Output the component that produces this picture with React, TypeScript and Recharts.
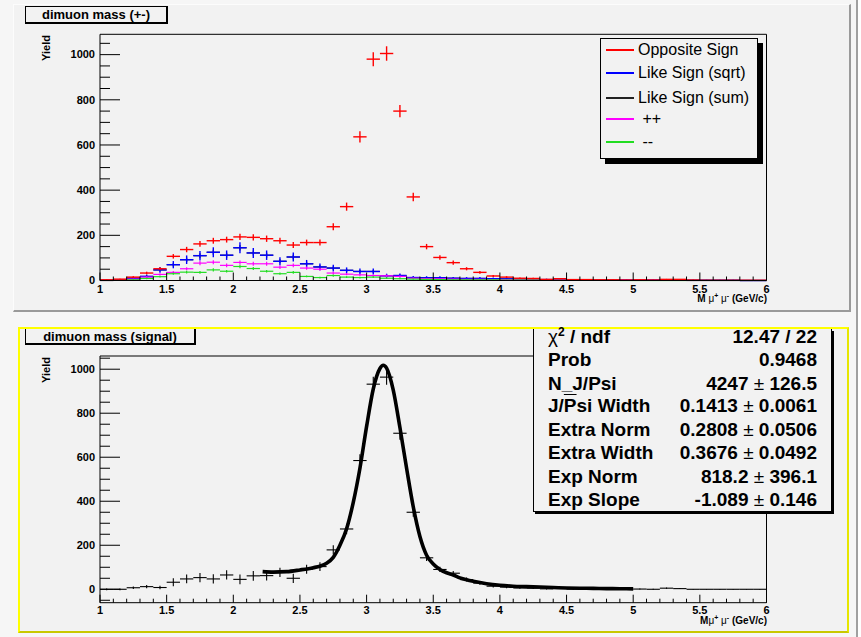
import React from "react";
import { ComposedChart, Scatter, Line, XAxis, YAxis, ErrorBar, ReferenceLine } from "recharts";

const FONT = '"Liberation Sans", Arial, Helvetica, sans-serif';

// bin centres, 50 bins of 0.1 GeV from 1 to 6
const binCenters = [
  1.05, 1.15, 1.25, 1.35, 1.45, 1.55, 1.65, 1.75, 1.85, 1.95, 2.05, 2.15, 2.25, 2.35, 2.45, 2.55, 2.65, 2.75, 2.85,
  2.95, 3.05, 3.15, 3.25, 3.35, 3.45, 3.55, 3.65, 3.75, 3.85, 3.95, 4.05, 4.15, 4.25, 4.35, 4.45, 4.55, 4.65, 4.75,
  4.85, 4.95, 5.05, 5.15, 5.25, 5.35, 5.45, 5.55, 5.65, 5.75, 5.85, 5.95,
];
const binHalfWidth = 0.05;

const oppositeSign = [
  3, 6, 15, 33, 52, 107, 137, 162, 176, 181, 193, 191, 185, 176, 157, 168, 168, 238, 327, 636, 980, 1005, 750, 370,
  150, 102, 79, 52, 36, 20, 15, 10, 9, 5, 8, 4, 4, 3, 3, 2, 3, 2, 5, 5, 2, 1, 1, 1, 1, 1,
];
const oppositeSignErr = [
  2, 2, 4, 6, 7, 10, 12, 13, 13, 13, 14, 14, 14, 13, 13, 13, 13, 15, 18, 25, 31, 32, 27, 19, 12, 10, 9, 7, 6, 4, 4, 3,
  3, 2, 3, 2, 2, 2, 2, 1, 2, 1, 2, 2, 1, 1, 1, 1, 1, 1,
];
const likeSignSqrt = [
  1, 3, 10, 18, 47, 70, 92, 110, 125, 112, 145, 122, 112, 85, 104, 74, 60, 55, 45, 40, 40, 21, 22, 13, 12, 12, 10, 9, 9,
  8, 7, 6, 5, 4, 4, 3, 3, 3, 2, 2, 2, 2, 1, 2, 1, 1, 1, 1, 0, 0,
];
const likeSignSqrtErr = [
  2, 3, 6, 8, 13, 16, 19, 21, 22, 21, 24, 22, 21, 18, 20, 17, 15, 15, 13, 13, 13, 9, 9, 7, 7, 7, 6, 6, 6, 5, 5, 5, 4,
  4, 4, 3, 3, 3, 3, 3, 3, 3, 2, 3, 2, 2, 2, 2, 1, 1,
];
const likeSignSum = [
  1, 3, 10, 18, 47, 70, 92, 110, 125, 112, 145, 122, 112, 85, 104, 74, 60, 55, 45, 40, 40, 21, 22, 13, 12, 12, 10, 9, 9,
  8, 7, 6, 5, 4, 4, 3, 3, 3, 2, 2, 2, 2, 1, 2, 1, 1, 1, 1, 0, 0,
];
const likeSignSumErr = [
  1, 2, 3, 4, 7, 8, 10, 11, 11, 11, 12, 11, 11, 9, 10, 9, 8, 7, 7, 6, 6, 5, 5, 4, 3, 3, 3, 3, 3, 3, 3, 2, 2, 2, 2, 2, 2,
  2, 1, 1, 1, 1, 1, 1, 1, 1, 1, 1, 0, 0,
];
const plusPlus = [
  0, 1, 6, 15, 27, 36, 52, 77, 81, 67, 80, 74, 74, 59, 67, 55, 50, 33, 28, 25, 22, 21, 18, 10, 8, 7, 6, 5, 5, 4, 4, 3,
  3, 2, 2, 2, 2, 1, 1, 1, 1, 1, 1, 1, 0, 0, 0, 0, 0, 0,
];
const plusPlusErr = [
  0, 1, 2, 4, 5, 6, 7, 9, 9, 8, 9, 9, 9, 8, 8, 7, 7, 6, 5, 5, 5, 5, 4, 3, 3, 3, 2, 2, 2, 2, 2, 2, 2, 1, 1, 1, 1, 1, 1,
  1, 1, 1, 1, 1, 0, 0, 0, 0, 0, 0,
];
const minusMinus = [
  0, 1, 3, 9, 17, 30, 37, 36, 47, 41, 62, 53, 41, 30, 36, 18, 13, 22, 15, 13, 15, 10, 8, 6, 5, 4, 3, 3, 3, 3, 2, 2, 2,
  2, 1, 1, 1, 1, 1, 0, 0, 0, 0, 0, 0, 0, 0, 0, 0, 0,
];
const minusMinusErr = [
  0, 1, 2, 3, 4, 5, 6, 6, 7, 6, 8, 7, 6, 5, 6, 4, 4, 5, 4, 4, 4, 3, 3, 2, 2, 2, 2, 2, 2, 2, 1, 1, 1, 1, 1, 1, 1, 1, 1,
  0, 0, 0, 0, 0, 0, 0, 0, 0, 0, 0,
];
const signal = [
  0, 0, 7, 12, 8, 32, 47, 53, 47, 65, 45, 61, 62, 77, 50, 91, 103, 179, 274, 585, 932, 964, 709, 350, 143, 90, 73, 44,
  28, 14, 10, 6, 5, 2, 4, 1, 1, 0, 1, 0, 1, 0, 5, 3, 0, 0, 0, 0, 0, 0,
];
const signalErr = [
  4, 4, 6, 7, 8, 18, 20, 21, 21, 21, 22, 22, 22, 21, 21, 20, 20, 21, 24, 28, 34, 35, 30, 21, 14, 12, 10, 9, 7, 6, 5, 4,
  4, 3, 3, 3, 2, 2, 2, 2, 2, 2, 3, 2, 1, 1, 1, 1, 1, 1,
];

// fitted curve
const fitX = [
  2.22, 2.3, 2.4, 2.5, 2.6, 2.65, 2.7, 2.75, 2.8, 2.85, 2.9, 2.95, 3.0, 3.05, 3.1, 3.125, 3.15, 3.2, 3.25, 3.3, 3.35,
  3.4, 3.45, 3.5, 3.55, 3.6, 3.65, 3.7, 3.75, 3.8, 3.9, 4.0, 4.1, 4.2, 4.3, 4.4, 4.5, 4.6, 4.7, 4.8, 4.9, 5.0,
];
const fitY = [
  80, 78, 80, 88, 98, 105, 118, 145, 200, 275, 395, 550, 740, 910, 1003, 1018, 1005, 905, 735, 550, 375, 240, 155, 115,
  90, 75, 65, 52, 43, 36, 25, 18, 14, 12, 10, 8, 6, 5, 4, 3, 2.5, 2,
];

const xTickLabels = [1, 1.5, 2, 2.5, 3, 3.5, 4, 4.5, 5, 5.5, 6];
const yTickLabels = [0, 200, 400, 600, 800, 1000];

const legendItems = [
  { label: "Opposite Sign", color: "#ff0000", y: 50 },
  { label: "Like Sign (sqrt)", color: "#0000ff", y: 73 },
  { label: "Like Sign (sum)", color: "#222222", y: 98 },
  { label: " ++", color: "#ff00ff", y: 119 },
  { label: " --", color: "#22dd22", y: 142 },
];

const statLabels = ["chi2", "Prob", "N_J/Psi", "J/Psi Width", "Extra Norm", "Extra Width", "Exp Norm", "Exp Slope"];
const statValues = [
  "12.47 / 22",
  "0.9468",
  "4247 ± 126.5",
  "0.1413 ± 0.0061",
  "0.2808 ± 0.0506",
  "0.3676 ± 0.0492",
  "818.2 ± 396.1",
  "-1.089 ± 0.146",
];
const statRowY = [337, 360, 384, 406, 430, 453, 477, 500];

const hist = (vals: number[], errs: number[]) =>
  binCenters.map((x, i) => ({ x, y: vals[i], ex: binHalfWidth, ey: errs[i] }));

const xTicks = Array.from({ length: 51 }, (_, i) => Math.round(10 + i) / 10);
const yTicks = Array.from({ length: 22 }, (_, i) => i * 50);
const yTicksBottom = [-50, ...yTicks];

const tickStyle = { fontFamily: FONT, fontWeight: 700, fontSize: 11, fill: "#000" };
const PAD = "#f2f2f2";

const noMarker = () => <g />;

function makeXTick(labelDy: number) {
  return (props: any) => {
    const { x, y, payload } = props;
    const v = payload.value;
    const major = xTickLabels.some((t) => Math.abs(t - v) < 1e-6);
    return (
      <g>
        <line x1={x} x2={x} y1={y} y2={y - (major ? 8 : 4)} stroke="#000" strokeWidth={1} />
        {major && (
          <text x={x} y={y + labelDy} textAnchor="middle" style={tickStyle}>
            {v}
          </text>
        )}
      </g>
    );
  };
}

const YTick = (props: any) => {
  const { x, y, payload } = props;
  const major = yTickLabels.includes(payload.value);
  return (
    <g>
      <line x1={x} x2={x + (major ? 20 : 10)} y1={y} y2={y} stroke="#000" strokeWidth={1} />
      {major && (
        <text x={x - 5} y={y} dy="0.35em" textAnchor="end" style={tickStyle}>
          {payload.value}
        </text>
      )}
    </g>
  );
};

function HistSeries({ data, color, w }: { data: any[]; color: string; w: number }) {
  return null;
}

function series(data: any[], color: string, w: number, key: string) {
  return (
    <Scatter key={key} data={data} dataKey="y" shape={noMarker} isAnimationActive={false}>
      <ErrorBar dataKey="ex" direction="x" width={0} stroke={color} strokeWidth={w} />
      <ErrorBar dataKey="ey" direction="y" width={0} stroke={color} strokeWidth={w} />
    </Scatter>
  );
}

const Mu = () => <span style={{ fontWeight: 400 }}>μ</span>;

function YieldLabel({ top }: { top: number }) {
  return (
    <div
      style={{
        position: "absolute",
        left: 46,
        top,
        transform: "translate(-50%, -50%) rotate(-90deg)",
        fontFamily: FONT,
        fontWeight: 700,
        fontSize: 11,
        whiteSpace: "nowrap",
      }}
    >
      Yield
    </div>
  );
}

function StatValue({ text }: { text: string }) {
  const parts = text.split("±");
  if (parts.length === 1) return <>{text}</>;
  return (
    <>
      {parts[0]}
      <span style={{ fontWeight: 400 }}>±</span>
      {parts[1]}
    </>
  );
}

function StatLabel({ text }: { text: string }) {
  if (text === "chi2")
    return (
      <>
        <span style={{ fontWeight: 400 }}>χ</span>
        <span style={{ fontSize: 12, position: "relative", top: -7 }}>2</span> / ndf
      </>
    );
  if (text === "J/Psi Width")
    return (
      <>
        J/<span style={{ textDecoration: "overline", textDecorationThickness: 1 }}>P</span>si Width
      </>
    );
  return <>{text}</>;
}

export default function App() {
  const osData = hist(oppositeSign, oppositeSignErr);
  const sqrtData = hist(likeSignSqrt, likeSignSqrtErr);
  const sumData = hist(likeSignSum, likeSignSumErr);
  const ppData = hist(plusPlus, plusPlusErr);
  const mmData = hist(minusMinus, minusMinusErr);
  const sigData = hist(signal, signalErr);
  const fitData = fitX.map((x, i) => ({ x, y: fitY[i] }));

  return (
    <div
      style={{
        position: "absolute",
        left: 0,
        top: 0,
        width: 861,
        height: 637,
        background: "#ffffff",
        overflow: "hidden",
        fontFamily: FONT,
      }}
    >
      <div
        style={{
          position: "absolute",
          left: 0,
          top: 0,
          width: 856,
          height: 637,
          background: "#f6f6f6",
          borderRight: "2px solid #a0a0a0",
        }}
      />
      {/* top pad */}
      <div
        style={{
          position: "absolute",
          left: 13,
          top: 4,
          width: 835,
          height: 305,
          background: PAD,
          borderTop: "1px solid #fcfcfc",
          borderLeft: "1px solid #fcfcfc",
          borderRight: "2px solid #9a9a9a",
          borderBottom: "2px solid #9a9a9a",
        }}
      />
      {/* bottom pad */}
      <div
        style={{
          position: "absolute",
          left: 18,
          top: 327,
          width: 827,
          height: 302,
          background: PAD,
          borderTop: "2px solid #ffff00",
          borderLeft: "2px solid #ffff00",
          borderRight: "2px solid #e6e600",
          borderBottom: "2px solid #c8c800",
        }}
      />

      <div style={{ position: "absolute", left: 0, top: 0 }}>
        <ComposedChart width={861} height={320} margin={{ top: 34.3, right: 94.5, bottom: 19.5, left: 60 }}>
          <XAxis
            type="number"
            dataKey="x"
            domain={[1, 6]}
            ticks={xTicks}
            interval={0}
            allowDataOverflow
            height={20}
            tickSize={0}
            tickMargin={0}
            tickLine={false}
            tick={makeXTick(12)}
            axisLine={{ stroke: "#000", strokeWidth: 1 }}
          />
          <YAxis
            type="number"
            domain={[0, 1090]}
            ticks={yTicks}
            interval={0}
            allowDataOverflow
            width={40}
            tickSize={0}
            tickMargin={0}
            tickLine={false}
            tick={YTick}
            axisLine={{ stroke: "#000", strokeWidth: 1 }}
          />
          <ReferenceLine y={1090} stroke="#000" strokeWidth={1} />
          <ReferenceLine x={6} stroke="#000" strokeWidth={1} />
          {series(sumData, "#222222", 1.2, "sum")}
          {series(sqrtData, "#0000ff", 1.4, "sqrt")}
          {series(ppData, "#ff00ff", 1.2, "pp")}
          {series(mmData, "#22dd22", 1.2, "mm")}
          {series(osData, "#ff0000", 1.4, "os")}
        </ComposedChart>
      </div>

      <div style={{ position: "absolute", left: 0, top: 320 }}>
        <ComposedChart width={861} height={317} margin={{ top: 36, right: 94.5, bottom: 14.3, left: 60 }}>
          <XAxis
            type="number"
            dataKey="x"
            domain={[1, 6]}
            ticks={xTicks}
            interval={0}
            allowDataOverflow
            height={20}
            tickSize={0}
            tickMargin={0}
            tickLine={false}
            tick={makeXTick(11)}
            axisLine={{ stroke: "#000", strokeWidth: 1 }}
          />
          <YAxis
            type="number"
            domain={[-61, 1060]}
            ticks={yTicksBottom}
            interval={0}
            allowDataOverflow
            width={40}
            tickSize={0}
            tickMargin={0}
            tickLine={false}
            tick={YTick}
            axisLine={{ stroke: "#000", strokeWidth: 1 }}
          />
          <ReferenceLine y={1060} stroke="#000" strokeWidth={1} />
          <ReferenceLine x={6} stroke="#000" strokeWidth={1} />
          {series(sigData, "#000000", 1.1, "sig")}
          <Line
            data={fitData}
            dataKey="y"
            type="monotone"
            dot={false}
            stroke="#000"
            strokeWidth={3.6}
            isAnimationActive={false}
          />
        </ComposedChart>
      </div>

      {/* titles */}
      <div
        style={{
          position: "absolute",
          left: 25,
          top: 6,
          width: 140,
          height: 15,
          background: PAD,
          border: "1px solid #000",
          borderRight: "2.5px solid #000",
          borderBottom: "2.5px solid #000",
          fontWeight: 700,
          fontSize: 13,
          lineHeight: "15px",
          textAlign: "center",
        }}
      >
        dimuon mass (+-)
      </div>
      <div
        style={{
          position: "absolute",
          left: 25,
          top: 329,
          width: 168,
          height: 14,
          background: PAD,
          borderLeft: "1px solid #000",
          borderRight: "2.5px solid #000",
          borderBottom: "2.5px solid #000",
          fontWeight: 700,
          fontSize: 13,
          lineHeight: "15px",
          textAlign: "center",
        }}
      >
        dimuon mass (signal)
      </div>

      <YieldLabel top={48} />
      <YieldLabel top={370} />

      <div
        style={{
          position: "absolute",
          right: 861 - 767,
          top: 293,
          fontWeight: 700,
          fontSize: 10,
          whiteSpace: "nowrap",
        }}
      >
        M <Mu />
        <span style={{ fontSize: 7, position: "relative", top: -4 }}>+</span> <Mu />
        <span style={{ fontSize: 7, position: "relative", top: -4 }}>-</span> (GeV/c)
      </div>
      <div
        style={{
          position: "absolute",
          right: 861 - 767,
          top: 615,
          fontWeight: 700,
          fontSize: 10,
          whiteSpace: "nowrap",
        }}
      >
        M<Mu />
        <span style={{ fontSize: 7, position: "relative", top: -4 }}>+</span> <Mu />
        <span style={{ fontSize: 7, position: "relative", top: -4 }}>-</span> (GeV/c)
      </div>

      {/* legend */}
      <div
        style={{
          position: "absolute",
          left: 600,
          top: 38,
          width: 156,
          height: 119,
          background: PAD,
          border: "1px solid #000",
          boxShadow: "5px 5px 0 #000",
        }}
      />
      {legendItems.map((it) => (
        <React.Fragment key={it.label}>
          <div
            style={{
              position: "absolute",
              left: 606,
              top: it.y - 1,
              width: 28,
              height: 2,
              background: it.color,
            }}
          />
          <div
            style={{
              position: "absolute",
              left: 638,
              top: it.y - 10,
              fontSize: 16,
              lineHeight: "20px",
              whiteSpace: "pre",
              color: "#000",
            }}
          >
            {it.label}
          </div>
        </React.Fragment>
      ))}

      {/* fit statistics box */}
      <div
        style={{
          position: "absolute",
          left: 533,
          top: 329,
          width: 297,
          height: 182,
          background: PAD,
          borderLeft: "1px solid #000",
          borderRight: "1px solid #000",
          borderBottom: "1px solid #000",
          boxShadow: "2px 2px 0 #000",
        }}
      />
      {statLabels.map((lab, i) => (
        <React.Fragment key={lab}>
          <div
            style={{
              position: "absolute",
              left: 548,
              top: statRowY[i] - 12,
              fontSize: 19,
              fontWeight: 700,
              lineHeight: "24px",
              whiteSpace: "nowrap",
            }}
          >
            <StatLabel text={lab} />
          </div>
          <div
            style={{
              position: "absolute",
              right: 861 - 817,
              top: statRowY[i] - 12,
              fontSize: 19,
              fontWeight: 700,
              lineHeight: "24px",
              whiteSpace: "nowrap",
            }}
          >
            <StatValue text={statValues[i]} />
          </div>
        </React.Fragment>
      ))}
    </div>
  );
}
